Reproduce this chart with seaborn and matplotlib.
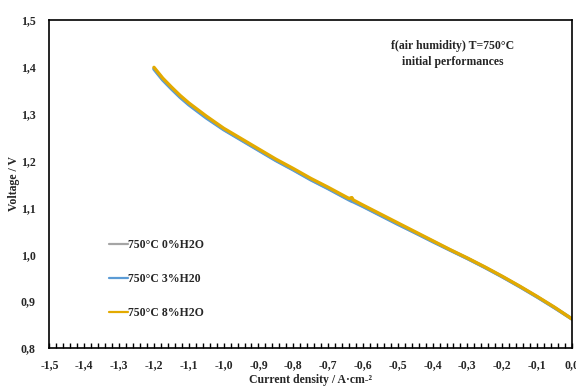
import matplotlib
matplotlib.use("Agg")
import matplotlib.pyplot as plt
import matplotlib.ticker as mticker
import numpy as np
import pandas as pd
import seaborn as sns

# Polarisation curves: current density (A/cm2) and cell voltage (V)
current = [-1.200, -1.175, -1.150, -1.125, -1.100, -1.075, -1.050, -1.000,
           -0.950, -0.900, -0.850, -0.800, -0.750, -0.700, -0.650, -0.640,
           -0.632, -0.628, -0.600, -0.550, -0.500, -0.450, -0.400, -0.350,
           -0.300, -0.250, -0.200, -0.150, -0.100, -0.050, 0.000]

voltage_0 = [1.397, 1.374, 1.355, 1.337, 1.321, 1.307, 1.293, 1.267,
             1.245, 1.223, 1.201, 1.181, 1.160, 1.141, 1.121, 1.118,
             1.120, 1.114, 1.103, 1.084, 1.065, 1.046, 1.028, 1.009,
             0.991, 0.972, 0.952, 0.931, 0.909, 0.886, 0.862]

voltage_3 = [1.395, 1.372, 1.353, 1.335, 1.319, 1.305, 1.291, 1.266,
             1.244, 1.222, 1.200, 1.180, 1.159, 1.140, 1.120, 1.116,
             1.113, 1.112, 1.102, 1.083, 1.064, 1.046, 1.027, 1.009,
             0.991, 0.972, 0.952, 0.931, 0.909, 0.886, 0.862]

voltage_8 = [1.399, 1.376, 1.357, 1.339, 1.323, 1.309, 1.295, 1.269,
             1.247, 1.225, 1.203, 1.183, 1.162, 1.143, 1.123, 1.119,
             1.121, 1.116, 1.105, 1.086, 1.067, 1.048, 1.029, 1.010,
             0.992, 0.973, 0.953, 0.932, 0.910, 0.887, 0.862]

series_names = ["750°C 0%H2O", "750°C 3%H20", "750°C 8%H2O"]
series_colors = ["#a5a5a5", "#5b9bd5", "#e3aa00"]

frames = []
for name, volt in zip(series_names, [voltage_0, voltage_3, voltage_8]):
    frames.append(pd.DataFrame({"current": current, "voltage": volt, "series": name}))
data = pd.concat(frames, ignore_index=True)

sns.set_style("white")
plt.rcParams["font.family"] = ["Liberation Serif", "DejaVu Serif"]
plt.rcParams["font.weight"] = "bold"

FS = 8.5

fig = plt.figure(figsize=(5.76, 3.87), dpi=100)
ax = fig.add_axes([0.0859, 0.1008, 0.907, 0.8475])

sns.lineplot(data=data, x="current", y="voltage", hue="series",
             hue_order=series_names, palette=series_colors,
             sort=False, estimator=None, linewidth=2.4, ax=ax, legend=True)

ax.set_xlim(-1.5, 0.0)
ax.set_ylim(0.8, 1.5)

comma = mticker.FuncFormatter(lambda v, p: f"{v:.1f}".replace(".", ","))
ax.xaxis.set_major_locator(mticker.MultipleLocator(0.1))
ax.xaxis.set_minor_locator(mticker.MultipleLocator(0.02))
ax.yaxis.set_major_locator(mticker.MultipleLocator(0.1))
ax.xaxis.set_major_formatter(comma)
ax.yaxis.set_major_formatter(comma)

ax.tick_params(axis="x", which="both", direction="in", length=3.5, width=1.0,
               color="black", bottom=True, labelsize=FS, pad=8)
ax.tick_params(axis="y", which="both", length=0, labelsize=FS, pad=10)
for lab in ax.get_xticklabels() + ax.get_yticklabels():
    lab.set_fontweight("bold")

for side in ["left", "right", "top", "bottom"]:
    ax.spines[side].set_visible(True)
    ax.spines[side].set_color("black")
    ax.spines[side].set_linewidth(1.2)

ax.set_xlabel("Current density / A·cm-²", fontsize=FS, fontweight="bold", labelpad=2)
ax.set_ylabel("Voltage / V", fontsize=FS, fontweight="bold")
ax.yaxis.set_label_coords(-0.056, 0.5)

ax.text(0.771, 0.895, "f(air humidity) T=750°C\ninitial performances",
        transform=ax.transAxes, ha="center", va="center",
        fontsize=FS, fontweight="bold", linespacing=1.45)

handles, labels = ax.get_legend_handles_labels()
for h in handles:
    h.set_linewidth(1.6)
ax.legend(handles, labels, loc="center left", bbox_to_anchor=(0.093, 0.21),
          frameon=False, handlelength=1.6, handletextpad=0.0,
          labelspacing=1.85, prop={"size": FS, "weight": "bold"})

fig.savefig("out.png", dpi=100)
